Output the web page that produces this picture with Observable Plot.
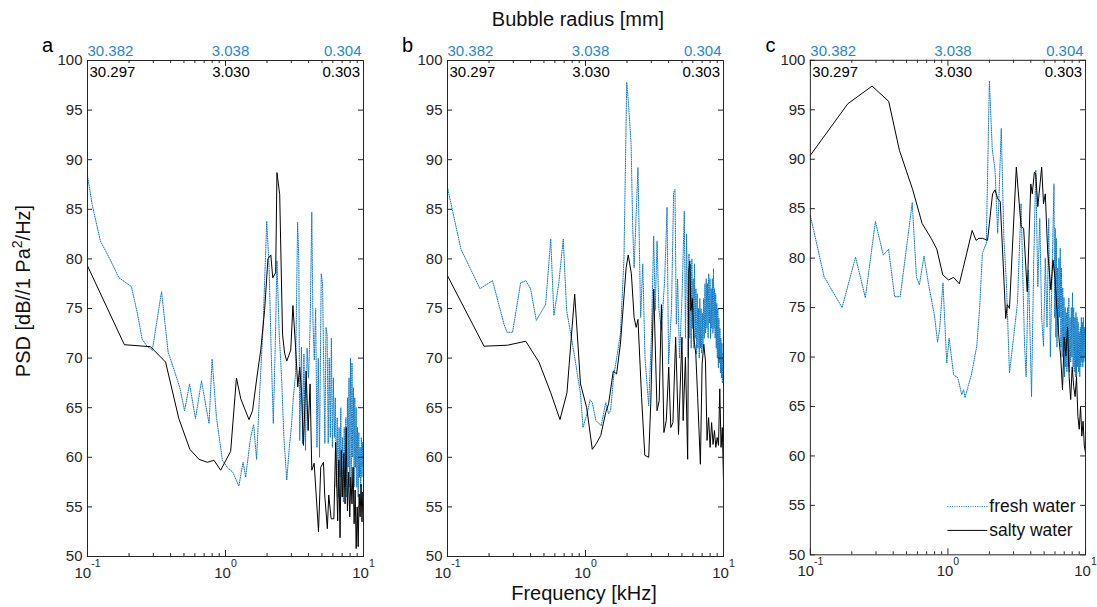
<!DOCTYPE html>
<html><head><meta charset="utf-8">
<script src="https://cdn.jsdelivr.net/npm/d3@7"></script>
<script src="https://cdn.jsdelivr.net/npm/@observablehq/plot@0.6"></script>
<style>
html,body{margin:0;padding:0;background:#fff;}
#fig{position:relative;width:1097px;height:607px;font-family:"Liberation Sans",Arial,Helvetica,sans-serif;color:#000;overflow:hidden;background:#fff;}
.lbl{position:absolute;font-size:20px;line-height:24px;white-space:nowrap;text-align:center;color:#111;}
.panel{position:absolute;top:0;}
.panel svg{overflow:visible;display:block;}
</style></head>
<body><div id="fig">
<div class="lbl" style="left:378px;top:7px;width:400px;">Bubble radius [mm]</div>
<div class="lbl" style="left:384px;top:581px;width:400px;">Frequency [kHz]</div>
<div class="lbl" style="left:-127px;top:279px;width:300px;transform:rotate(-90deg);">PSD [dB//1 Pa<span style="font-size:0.7em;vertical-align:0.6em;line-height:0">2</span>/Hz]</div>
</div>
<script>
// ---- tick / label data ----
const freqMajor = [0.1, 1, 10];
const freqMinor = [0.2,0.3,0.4,0.5,0.6,0.7,0.8,0.9,2,3,4,5,6,7,8,9];
const psdTicks = [50,55,60,65,70,75,80,85,90,95,100];
const radiusFresh = ["30.382","3.038","0.304"];
const radiusSalty = ["30.297","3.030","0.303"];
const panelLetters = ["a","b","c"];
const seriesNames = ["fresh water","salty water"];

// ---- series: [frequency kHz, PSD dB] ----
const freshA = [[0.1,88.4],[0.108,85.5],[0.124,81.8],[0.145,80.0],[0.169,78.1],[0.19,77.6],[0.208,77.2],[0.23,74.5],[0.249,71.9],[0.27,71.2],[0.295,70.8],[0.344,76.7],[0.384,70.6],[0.42,69.0],[0.467,67.0],[0.505,64.7],[0.549,67.4],[0.606,63.9],[0.67,67.7],[0.76,63.4],[0.8,69.9],[0.86,64.0],[0.95,59.7],[1.04,58.9],[1.13,58.5],[1.25,57.1],[1.34,59.5],[1.4,58.0],[1.52,62.0],[1.6,63.3],[1.68,59.8],[1.76,66.0],[1.87,73.0],[1.99,83.8],[2.07,79.1],[2.15,70.0],[2.22,63.4],[2.3,72.0],[2.36,79.8],[2.45,72.5],[2.55,68.0],[2.65,62.0],[2.78,57.7],[2.9,61.0],[3.0,63.0],[3.1,66.0],[3.22,68.4],[3.33,83.7],[3.4,79.8],[3.45,61.7],[3.55,71.1],[3.62,61.4],[3.7,70.4],[3.8,60.7],[3.9,71.0],[4.0,68.0],[4.1,73.0],[4.22,84.7],[4.3,73.8],[4.4,69.8],[4.5,75.0],[4.6,61.0],[4.7,70.0],[4.8,60.0],[4.94,78.5],[5.05,77.5],[5.15,69.0],[5.25,61.4],[5.35,73.1],[5.45,72.4],[5.55,61.4],[5.65,70.0],[5.75,62.0],[5.85,72.0],[5.95,61.0],[6.05,68.0],[6.15,62.0],[6.25,66.0],[6.35,57.0],[6.45,64.0],[6.55,56.0],[6.65,63.0],[6.75,58.0],[6.85,65.0],[6.95,56.0],[7.05,62.0],[7.15,55.5],[7.25,63.0],[7.35,57.0],[7.45,64.0],[7.55,56.0],[7.65,66.0],[7.75,59.0],[7.85,68.0],[7.95,57.0],[8.05,70.0],[8.15,58.0],[8.25,69.5],[8.35,60.0],[8.45,67.0],[8.55,57.0],[8.65,66.0],[8.75,59.0],[8.85,65.0],[8.95,57.0],[9.05,63.0],[9.15,56.0],[9.25,62.5],[9.35,58.0],[9.45,61.0],[9.55,57.0],[9.65,62.0],[9.75,58.0],[9.85,61.5],[9.95,59.0],[10,60.0]];
const saltyA = [[0.1,79.3],[0.185,71.35],[0.286,71.15],[0.368,69.6],[0.459,63.9],[0.552,60.8],[0.642,59.8],[0.738,59.5],[0.825,59.7],[0.922,58.7],[1.09,60.6],[1.2,68.0],[1.29,65.9],[1.48,63.8],[1.57,64.7],[1.69,68.1],[1.8,70.8],[1.92,74.8],[2.03,80.0],[2.13,80.4],[2.2,78.1],[2.31,78.6],[2.36,88.7],[2.47,86.5],[2.59,72.4],[2.68,70.5],[2.78,69.7],[2.97,70.8],[3.08,75.3],[3.22,71.1],[3.34,67.1],[3.45,69.1],[3.56,66.5],[3.67,61.2],[3.84,68.7],[3.97,62.7],[4.1,67.4],[4.22,58.7],[4.39,59.4],[4.55,56.0],[4.72,52.5],[4.9,59.0],[5.13,59.5],[5.23,56.3],[5.47,52.8],[5.6,56.2],[5.83,53.8],[6.1,53.8],[6.28,61.5],[6.5,53.6],[6.63,59.7],[6.76,51.9],[6.9,60.7],[7.05,56.0],[7.2,60.4],[7.35,55.3],[7.5,63.0],[7.65,54.6],[7.8,58.5],[7.95,54.0],[8.1,58.0],[8.25,55.3],[8.4,59.0],[8.55,53.3],[8.7,56.7],[8.85,50.8],[9.0,55.0],[9.15,51.0],[9.3,56.3],[9.45,54.0],[9.6,57.3],[9.75,53.5],[9.9,56.5],[10,55.0]];
const freshB = [[0.1,87.2],[0.125,81.0],[0.172,77.0],[0.212,77.8],[0.257,73.4],[0.27,72.6],[0.296,72.6],[0.339,77.6],[0.37,77.8],[0.4,77.0],[0.44,73.8],[0.466,74.4],[0.514,75.4],[0.56,82.0],[0.59,74.3],[0.64,77.5],[0.69,82.0],[0.73,74.8],[0.82,70.8],[0.92,66.4],[0.96,63.0],[1.03,64.5],[1.08,65.8],[1.12,65.5],[1.19,63.7],[1.25,63.4],[1.3,63.2],[1.4,65.5],[1.47,64.4],[1.52,64.7],[1.6,68.2],[1.7,70.4],[1.79,72.4],[1.9,80.0],[1.99,97.8],[2.05,95.6],[2.14,91.6],[2.2,83.0],[2.25,79.1],[2.4,89.2],[2.51,74.1],[2.6,79.5],[2.7,70.0],[2.87,65.2],[3.0,72.0],[3.12,82.3],[3.2,74.8],[3.3,81.8],[3.4,75.0],[3.55,72.8],[3.75,78.0],[3.9,85.2],[4.0,69.4],[4.2,75.0],[4.35,86.7],[4.45,87.0],[4.55,73.4],[4.65,78.0],[4.8,70.0],[5.0,76.0],[5.2,84.8],[5.3,72.0],[5.4,82.5],[5.55,70.0],[5.62,80.5],[5.7,72.0],[5.76,79.5],[5.83,71.0],[5.9,80.0],[5.96,73.0],[6.03,78.0],[6.1,71.0],[6.17,79.5],[6.24,72.0],[6.31,77.0],[6.38,70.4],[6.45,76.5],[6.52,71.0],[6.6,75.0],[6.67,70.0],[6.74,76.0],[6.81,71.0],[6.88,75.0],[6.95,70.5],[7.03,74.5],[7.1,71.0],[7.18,76.0],[7.26,72.0],[7.34,77.5],[7.42,72.5],[7.5,78.0],[7.58,73.0],[7.66,77.5],[7.74,72.0],[7.82,78.5],[7.9,73.5],[7.98,78.0],[8.06,72.0],[8.14,77.0],[8.22,73.0],[8.3,78.0],[8.38,72.5],[8.46,79.0],[8.54,73.0],[8.62,77.0],[8.7,72.0],[8.78,76.5],[8.86,71.0],[8.94,75.5],[9.02,70.0],[9.1,75.0],[9.18,69.0],[9.26,74.0],[9.34,69.5],[9.42,73.0],[9.5,68.5],[9.58,72.0],[9.66,68.0],[9.74,71.5],[9.82,67.5],[9.9,70.5],[10,67.0]];
const saltyB = [[0.1,78.3],[0.184,71.2],[0.272,71.3],[0.369,71.7],[0.46,69.6],[0.56,66.5],[0.653,63.8],[0.734,66.5],[0.835,76.45],[0.92,67.4],[1.02,65.0],[1.12,60.8],[1.2,61.4],[1.29,62.2],[1.4,64.5],[1.47,65.4],[1.59,68.7],[1.68,68.4],[1.79,71.4],[1.97,79.1],[2.04,80.4],[2.15,78.5],[2.25,74.1],[2.33,73.1],[2.4,73.9],[2.55,66.0],[2.69,60.2],[2.87,60.0],[2.97,65.4],[3.12,76.95],[3.3,64.7],[3.42,65.7],[3.55,75.4],[3.7,62.5],[3.85,63.7],[4.01,69.1],[4.15,63.0],[4.3,63.5],[4.5,72.1],[4.72,62.3],[5.0,72.1],[5.1,63.7],[5.3,70.1],[5.5,59.8],[5.6,78.8],[5.7,79.8],[5.8,74.8],[5.95,76.0],[6.1,72.0],[6.3,70.4],[6.5,66.0],[6.8,59.3],[7.0,69.4],[7.2,71.4],[7.4,69.7],[7.6,61.7],[7.8,64.0],[8.0,61.0],[8.2,63.5],[8.4,61.3],[8.6,62.7],[8.8,61.0],[9.0,62.0],[9.2,61.2],[9.4,66.9],[9.6,61.0],[9.8,63.0],[10,57.6]];
const freshC = [[0.1,84.3],[0.126,78.1],[0.17,75.0],[0.213,80.1],[0.251,76.0],[0.297,83.7],[0.339,80.3],[0.37,80.9],[0.41,76.1],[0.45,76.1],[0.55,85.6],[0.59,78.1],[0.62,77.3],[0.67,80.2],[0.72,77.5],[0.8,74.1],[0.84,71.5],[0.87,72.8],[0.92,77.5],[0.98,69.4],[1.02,71.9],[1.1,68.2],[1.18,67.9],[1.26,66.2],[1.3,66.7],[1.33,65.9],[1.48,68.2],[1.62,71.1],[1.7,75.0],[1.78,80.5],[1.9,81.5],[2.0,97.9],[2.1,91.0],[2.2,88.9],[2.3,82.5],[2.44,93.1],[2.55,82.0],[2.66,77.5],[2.8,68.4],[3.0,72.0],[3.2,75.4],[3.4,85.5],[3.6,71.4],[3.7,68.0],[3.85,78.8],[4.05,66.0],[4.2,79.5],[4.35,88.9],[4.5,77.1],[4.65,84.0],[4.8,74.0],[4.95,71.1],[5.1,80.0],[5.25,73.0],[5.4,84.0],[5.55,70.0],[5.7,78.0],[5.9,87.5],[5.96,74.0],[6.02,83.0],[6.08,72.0],[6.14,82.0],[6.2,71.0],[6.27,79.0],[6.34,72.5],[6.41,80.0],[6.48,74.0],[6.55,81.0],[6.62,71.0],[6.69,79.0],[6.76,70.0],[6.83,77.0],[6.9,70.5],[6.97,76.0],[7.04,68.0],[7.11,75.0],[7.18,69.0],[7.25,74.5],[7.32,68.5],[7.4,75.0],[7.48,69.0],[7.56,76.0],[7.64,68.5],[7.72,74.0],[7.8,69.5],[7.88,75.0],[7.96,70.0],[8.04,76.5],[8.12,69.0],[8.2,75.0],[8.28,68.5],[8.36,74.0],[8.44,68.0],[8.52,74.5],[8.6,68.0],[8.68,74.0],[8.76,69.0],[8.84,73.5],[8.92,68.5],[9.0,72.5],[9.08,68.0],[9.16,73.0],[9.24,69.0],[9.32,74.0],[9.4,69.5],[9.48,73.5],[9.56,69.0],[9.64,74.0],[9.72,69.5],[9.8,73.0],[9.9,70.0],[10,71.0]];
const saltyC = [[0.1,90.4],[0.187,95.6],[0.281,97.4],[0.371,95.85],[0.444,90.9],[0.555,86.9],[0.649,83.5],[0.755,82.0],[0.83,80.9],[0.917,78.3],[1.01,77.8],[1.1,78.05],[1.21,77.4],[1.37,80.5],[1.5,82.8],[1.6,81.8],[1.68,82.0],[1.78,82.0],[1.94,81.8],[2.11,86.5],[2.2,86.9],[2.3,86.0],[2.4,85.7],[2.63,73.9],[2.7,75.3],[2.8,74.9],[3.14,89.2],[3.4,83.2],[3.55,83.0],[3.77,76.6],[4.0,87.5],[4.1,86.5],[4.25,88.7],[4.35,88.5],[4.5,85.2],[4.8,89.2],[4.95,85.5],[5.1,86.5],[5.3,80.8],[5.6,76.8],[5.8,79.8],[6.0,78.0],[6.2,74.8],[6.4,72.0],[6.6,70.0],[6.8,66.7],[7.0,72.0],[7.2,70.1],[7.4,73.0],[7.6,68.0],[7.8,65.7],[8.0,69.0],[8.2,67.0],[8.4,66.0],[8.6,68.0],[8.8,64.0],[9.0,62.7],[9.2,65.0],[9.4,62.0],[9.6,63.5],[9.8,61.0],[10,60.3]];

// ---- styling / layout ----
const BLUE = "#0a78c4", BLUE_TXT = "#1f86cf", AXC = "#262626", DOTS = "1,1.3";
const FW = 276, FH = 496, ML = 45, MR = 12, MT = 60, MB = 51;
const fig = document.getElementById("fig");

function makePanel(fresh, salty, letter, frameLeft, legend) {
  const anchors = ["start","middle","end"];
  const dxF = [0, 5, -2], dxS = [2, 5.5, -3.5];
  const marks = [
    Plot.line(fresh, {x: d => d[0], y: d => d[1], stroke: BLUE, strokeWidth: 1, strokeDasharray: DOTS}),
    Plot.line(salty, {x: d => d[0], y: d => d[1], stroke: "#000", strokeWidth: 1}),
    Plot.frame({stroke: AXC, strokeWidth: 1}),
    Plot.tickX(freqMajor, {x: d => d, insetTop: FH - 6, stroke: AXC}),
    Plot.tickX(freqMajor, {x: d => d, insetBottom: FH - 6, stroke: AXC}),
    Plot.tickX(freqMinor, {x: d => d, insetTop: FH - 3, stroke: AXC}),
    Plot.tickX(freqMinor, {x: d => d, insetBottom: FH - 3, stroke: AXC}),
    Plot.tickY(psdTicks, {y: d => d, insetRight: FW - 5, stroke: AXC}),
    Plot.tickY(psdTicks, {y: d => d, insetLeft: FW - 5, stroke: AXC}),
    Plot.axisX(freqMajor, {tickSize: 0, tickPadding: 11, label: null, fill: AXC,
      tickFormat: d => "10^" + Math.round(Math.log10(d))}),
    Plot.axisY(psdTicks, {tickSize: 0, tickPadding: 5, label: null, fill: AXC}),
    Plot.text([letter], {text: d => d, frameAnchor: "top-left", dx: -40, dy: -14.5,
      textAnchor: "middle", lineAnchor: "middle", fontSize: 20, fill: "#000"})
  ];
  for (let i = 0; i < 3; i++) {
    marks.push(Plot.text([radiusFresh[i]], {x: freqMajor[i], text: d => d, frameAnchor: "top",
      dy: -9, dx: dxF[i], textAnchor: anchors[i], lineAnchor: "middle", fill: BLUE_TXT, fontSize: 15}));
    marks.push(Plot.text([radiusSalty[i]], {x: freqMajor[i], text: d => d, frameAnchor: "top",
      dy: 11.5, dx: dxS[i], textAnchor: anchors[i], lineAnchor: "middle", fill: "#000", fontSize: 15}));
  }
  const svg = Plot.plot({
    width: ML + FW + MR, height: MT + FH + MB,
    marginLeft: ML, marginRight: MR, marginTop: MT, marginBottom: MB,
    x: {type: "log", domain: [0.1, 10]},
    y: {domain: [50, 100]},
    style: {fontFamily: '"Liberation Sans", Arial, Helvetica, sans-serif', fontSize: "15px",
            color: AXC, background: "none", overflow: "visible"},
    marks
  });
  // superscript exponents on the x tick labels
  d3.select(svg).selectAll('g[aria-label="x-axis tick label"] text').each(function() {
    const t = d3.select(this);
    const parts = t.text().split("^");
    t.text(null);
    t.append("tspan").text(parts[0]);
    t.append("tspan").attr("dy", -11).attr("font-size", "10.5px").text(parts[1]);
  });
  if (legend) {
    const g = d3.select(svg).append("g")
      .attr("font-family", '"Liberation Sans", Arial, Helvetica, sans-serif')
      .attr("font-size", 17.5).attr("text-anchor", "start");
    const right = ML + FW;
    const rows = [{y: MT + FH - 48, dash: DOTS, c: BLUE}, {y: MT + FH - 24, dash: null, c: "#000"}];
    rows.forEach((r, i) => {
      g.append("line").attr("x1", right - 138).attr("x2", right - 98)
        .attr("y1", r.y).attr("y2", r.y).attr("stroke", r.c).attr("stroke-width", 1)
        .attr("stroke-dasharray", r.dash);
      g.append("text").attr("x", right - 96).attr("y", r.y + 6).attr("fill", "#111")
        .attr("text-anchor", "start").text(seriesNames[i]);
    });
  }
  const div = document.createElement("div");
  div.className = "panel";
  div.style.left = (frameLeft - ML) + "px";
  div.appendChild(svg);
  fig.appendChild(div);
}

makePanel(freshA, saltyA, panelLetters[0], 87, false);
makePanel(freshB, saltyB, panelLetters[1], 447, false);
makePanel(freshC, saltyC, panelLetters[2], 810, true);
</script>
</body></html>
